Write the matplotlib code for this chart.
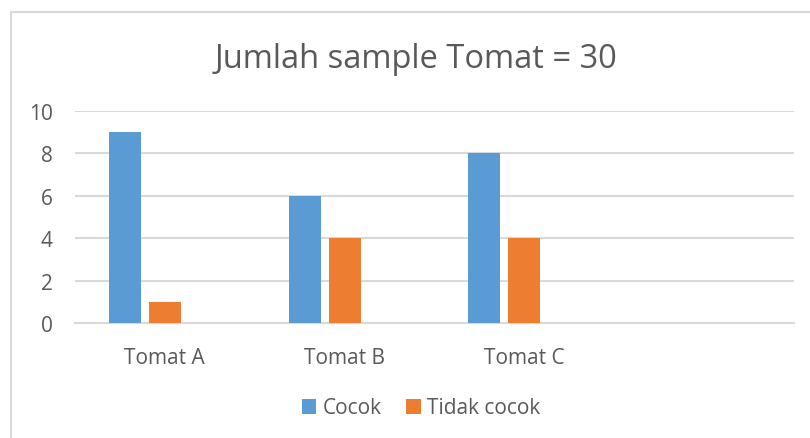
import matplotlib
matplotlib.use("Agg")
import matplotlib.pyplot as plt
from matplotlib.patches import Rectangle
import numpy as np

categories = ["Tomat A", "Tomat B", "Tomat C", ""]
cocok = [9, 6, 8, np.nan]
tidak_cocok = [1, 4, 4, np.nan]
yticks = [0, 2, 4, 6, 8, 10]
title = "Jumlah sample Tomat = 30"

plt.rcParams['font.family'] = ['Open Sans', 'DejaVu Sans']
grey = "#595959"

fig = plt.figure(figsize=(8.1, 4.39), dpi=100)
fig.patch.set_facecolor("white")
# chart border
fig.add_artist(Rectangle((11/810, -0.1), 1.2, 1 - 13/439 + 0.1, transform=fig.transFigure,
                         fill=False, edgecolor="#d9d9d9", linewidth=1.5))

ax = fig.add_axes([75/810, 1 - 324/439, (794 - 75)/810, (324 - 112)/439])
x = np.arange(len(categories))
w = 32/180
step = 40/180
ax.bar(x - step, cocok, width=w, color="#5B9BD5", label="Cocok", zorder=3)
ax.bar(x, tidak_cocok, width=w, color="#ED7D31", label="Tidak cocok", zorder=3)

ax.set_xlim(-0.5, len(categories) - 0.5)
ax.set_ylim(0, 10)
ax.set_yticks(yticks)
ax.set_yticklabels([str(t) for t in yticks])
ax.set_xticks(x)
ax.set_xticklabels(categories)
ax.yaxis.grid(True, color="#d9d9d9", linewidth=1.5, zorder=0)
ax.set_axisbelow(True)
for s in ["top", "right", "left"]:
    ax.spines[s].set_visible(False)
ax.spines["bottom"].set_color("#d9d9d9")
ax.spines["bottom"].set_linewidth(1.5)
ax.tick_params(axis="both", length=0, colors=grey, labelsize=15)
ax.tick_params(axis="y", pad=16)
ax.tick_params(axis="x", pad=17)

fig.text(416/810, 1 - 60/439, title, ha="center", va="center", fontsize=23.5, color=grey)

leg = fig.legend(loc="center", bbox_to_anchor=(421/810, 1 - 409/439), ncol=2, frameon=False,
                 fontsize=15, handlelength=0.7, handleheight=0.7, columnspacing=1.2,
                 handletextpad=0.3, labelcolor=grey)

fig.savefig("out.png", dpi=100, facecolor="white")
